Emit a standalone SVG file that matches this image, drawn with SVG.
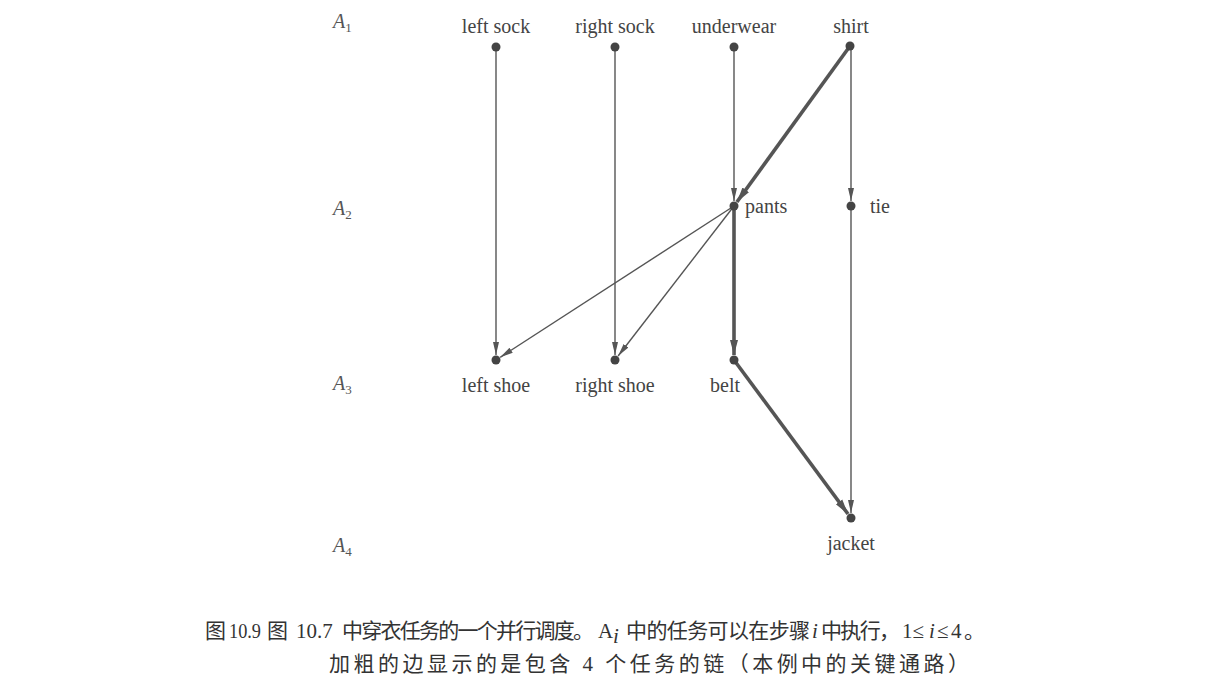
<svg xmlns="http://www.w3.org/2000/svg" width="1208" height="695" viewBox="0 0 1208 695">
<style>
  .lbl { font-family: "Liberation Serif", "Times New Roman", serif; font-size: 20px; fill: #444; }
  .lvl { font-family: "Liberation Serif", "Times New Roman", serif; font-size: 20px; font-style: italic; fill: #555; }
  .dot { fill: #444; }
  .thin { stroke: #555; stroke-width: 1.4; fill: none; marker-end: url(#arrThin); }
  .thick { stroke: #555; stroke-width: 3.6; fill: none; marker-end: url(#arrThick); }
  .cap { font-family: "Liberation Serif", "Noto Sans CJK SC", serif; font-size: 21px; fill: #333; }
  .it { font-style: italic; }
</style>
<defs>
  <marker id="arrThin" markerUnits="userSpaceOnUse" markerWidth="14" markerHeight="8" refX="13" refY="4" orient="auto">
    <path d="M0,1 L13,4 L0,7 z" fill="#555"/>
  </marker>
  <marker id="arrThick" markerUnits="userSpaceOnUse" markerWidth="16" markerHeight="10" refX="15" refY="5" orient="auto">
    <path d="M0,1 L15,5 L0,9 z" fill="#555"/>
  </marker>
</defs>
<rect width="1208" height="695" fill="#ffffff"/>

<g id="levels">
  <text class="lvl" x="333" y="28">A<tspan font-size="13" dy="4" font-style="normal">1</tspan></text>
  <text class="lvl" x="333" y="215">A<tspan font-size="13" dy="4" font-style="normal">2</tspan></text>
  <text class="lvl" x="333" y="390">A<tspan font-size="13" dy="4" font-style="normal">3</tspan></text>
  <text class="lvl" x="333" y="552">A<tspan font-size="13" dy="4" font-style="normal">4</tspan></text>
</g>

<g id="connectors">
  <line class="thin" x1="496" y1="47" x2="496" y2="355"/>
  <line class="thin" x1="615" y1="47" x2="615" y2="355"/>
  <line class="thin" x1="734" y1="47" x2="734" y2="201"/>
  <line class="thin" x1="851" y1="46" x2="851" y2="201"/>
  <line class="thin" x1="851" y1="206" x2="851" y2="513"/>
  <line class="thin" x1="734" y1="206" x2="500.2" y2="357.3"/>
  <line class="thin" x1="734" y1="206" x2="618.1" y2="356"/>
  <line class="thick" x1="850" y1="46" x2="736.9" y2="202"/>
  <line class="thick" x1="734" y1="206" x2="734" y2="355"/>
  <line class="thick" x1="734" y1="360" x2="848" y2="514"/>
</g>

<g id="left-sock"><circle class="dot" cx="496" cy="47" r="4.5"/><text class="lbl" x="496" y="33" text-anchor="middle">left sock</text></g>
<g id="right-sock"><circle class="dot" cx="615" cy="47" r="4.5"/><text class="lbl" x="615" y="33" text-anchor="middle">right sock</text></g>
<g id="underwear"><circle class="dot" cx="734" cy="47" r="4.5"/><text class="lbl" x="734" y="33" text-anchor="middle">underwear</text></g>
<g id="shirt"><circle class="dot" cx="850" cy="46" r="4.5"/><text class="lbl" x="851" y="33" text-anchor="middle">shirt</text></g>
<g id="pants"><circle class="dot" cx="734" cy="206" r="4.5"/><text class="lbl" x="745" y="213">pants</text></g>
<g id="tie"><circle class="dot" cx="851" cy="206" r="4.5"/><text class="lbl" x="870" y="213">tie</text></g>
<g id="left-shoe"><circle class="dot" cx="496" cy="360" r="4.5"/><text class="lbl" x="496" y="392" text-anchor="middle">left shoe</text></g>
<g id="right-shoe"><circle class="dot" cx="615" cy="360" r="4.5"/><text class="lbl" x="615" y="392" text-anchor="middle">right shoe</text></g>
<g id="belt"><circle class="dot" cx="734" cy="360" r="4.5"/><text class="lbl" x="725" y="392" text-anchor="middle">belt</text></g>
<g id="jacket"><circle class="dot" cx="851" cy="518" r="4.5"/><text class="lbl" x="851" y="550" text-anchor="middle">jacket</text></g>

<g id="caption">
  <text class="cap" x="205" y="638">图</text>
  <text class="cap" x="229" y="638" textLength="32" lengthAdjust="spacingAndGlyphs">10.9</text>
  <text class="cap" x="267" y="638">图</text>
  <text class="cap" x="296" y="638">10.7</text>
  <text class="cap" x="342" y="638" textLength="252" lengthAdjust="spacing">中穿衣任务的一个并行调度。</text>
  <text class="cap" x="598" y="638">A</text>
  <text class="cap it" x="613" y="643" font-size="15">i</text>
  <text class="cap" x="626" y="638" textLength="184" lengthAdjust="spacing">中的任务可以在步骤</text>
  <text class="cap it" x="812" y="638">i</text>
  <text class="cap" x="821" y="638" textLength="79" lengthAdjust="spacing">中执行，</text>
  <text class="cap" x="902" y="638">1≤</text>
  <text class="cap it" x="929" y="638">i</text>
  <text class="cap" x="937" y="638" textLength="48" lengthAdjust="spacing">≤4。</text>
  <text class="cap" x="329" y="671" textLength="640" lengthAdjust="spacing">加粗的边显示的是包含 4 个任务的链（本例中的关键通路）</text>
</g>
</svg>
